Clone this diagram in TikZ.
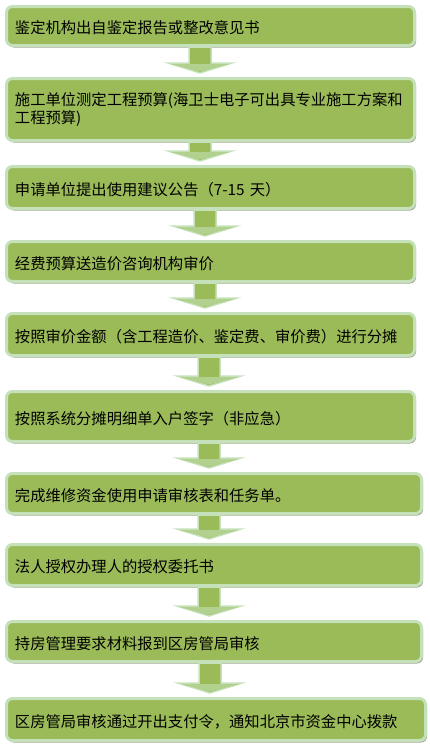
\documentclass[tikz,border=0pt]{standalone}
\usepackage{fontspec}
\newfontfamily\cjk{Noto Sans CJK SC}
\usetikzlibrary{calc,shadows}
\definecolor{olive}{HTML}{9BBB59}
\definecolor{rim}{HTML}{C4E1BA}
\definecolor{shade}{HTML}{A3A595}

% down arrow between two stages: x position, upper node, lower node
\newcommand{\flowarrow}[3]{%
  \path let \p1=(#2.south), \p2=(#3.north) in
    [arrowshape] (#1pt-11pt,\y1) -- (#1pt+11pt,\y1) -- (#1pt+11pt,\y2+14pt)
    -- (#1pt+32pt,\y2+14pt) -- (#1pt,\y2+4pt) -- (#1pt-32pt,\y2+14pt)
    -- (#1pt-11pt,\y2+14pt) -- cycle;
  \path let \p2=(#3.north) in
    [headshape] (#1pt-30pt,\y2+13pt) -- (#1pt+30pt,\y2+13pt) -- (#1pt,\y2+5.5pt) -- cycle;}

\begin{document}
\begin{tikzpicture}[
    x=1pt, y=-1pt,
    stage/.style={draw=rim, line width=3pt, fill=olive, rectangle, rounded corners=6pt,
      inner xsep=8.5pt, inner ysep=2pt, align=left, text width=#1,
      font=\cjk\fontsize{15.3}{17.5}\selectfont,
      drop shadow={shadow xshift=1.5pt, shadow yshift=-2pt, fill=shade, opacity=1}},
    oneline/.style={text height=15.5pt, text depth=0pt},
    arrowshape/.style={draw=rim, line width=1.5pt, fill=olive, line join=miter},
    headshape/.style={fill=rim!55!olive}
]

    \useasboundingbox (0,0) rectangle (430,745);

    % Stages
    \node[stage=391pt, oneline, minimum height=39pt] (s1) at (210.5,26) {鉴定机构出自鉴定报告或整改意见书};
    \node[stage=391pt, minimum height=62pt] (s2) at (210.5,109.5) {施工单位测定工程预算(海卫士电子可出具专业施工方案和\\工程预算)};
    \node[stage=391pt, oneline, minimum height=42pt] (s3) at (210.5,187.5) {申请单位提出使用建议公告（7-15 天）};
    \node[stage=391pt, oneline, minimum height=40pt] (s4) at (210.5,261.5) {经费预算送造价咨询机构审价};
    \node[stage=391pt, oneline, minimum height=42pt] (s5) at (210.5,334.5) {按照审价金额（含工程造价、鉴定费、审价费）进行分摊};
    \node[stage=391pt, oneline, minimum height=50pt] (s6) at (210.5,416.5) {按照系统分摊明细单入户签字（非应急）};
    \node[stage=398pt, oneline, minimum height=40pt] (s7) at (214,493.5) {完成维修资金使用申请审核表和任务单。};
    \node[stage=398pt, oneline, minimum height=41pt] (s8) at (214,565) {法人授权办理人的授权委托书};
    \node[stage=398pt, oneline, minimum height=40pt] (s9) at (214,641.5) {持房管理要求材料报到区房管局审核};
    \node[stage=402pt, oneline, minimum height=42pt] (s10) at (216,719.5) {区房管局审核通过开出支付令，通知北京市资金中心拨款};

    % Arrows
    \flowarrow{200}{s1}{s2}
    \flowarrow{200}{s2}{s3}
    \flowarrow{205}{s3}{s4}
    \flowarrow{205}{s4}{s5}
    \flowarrow{209}{s5}{s6}
    \flowarrow{209}{s6}{s7}
    \flowarrow{209}{s7}{s8}
    \flowarrow{209}{s8}{s9}
    \flowarrow{210}{s9}{s10}

\end{tikzpicture}
\end{document}
